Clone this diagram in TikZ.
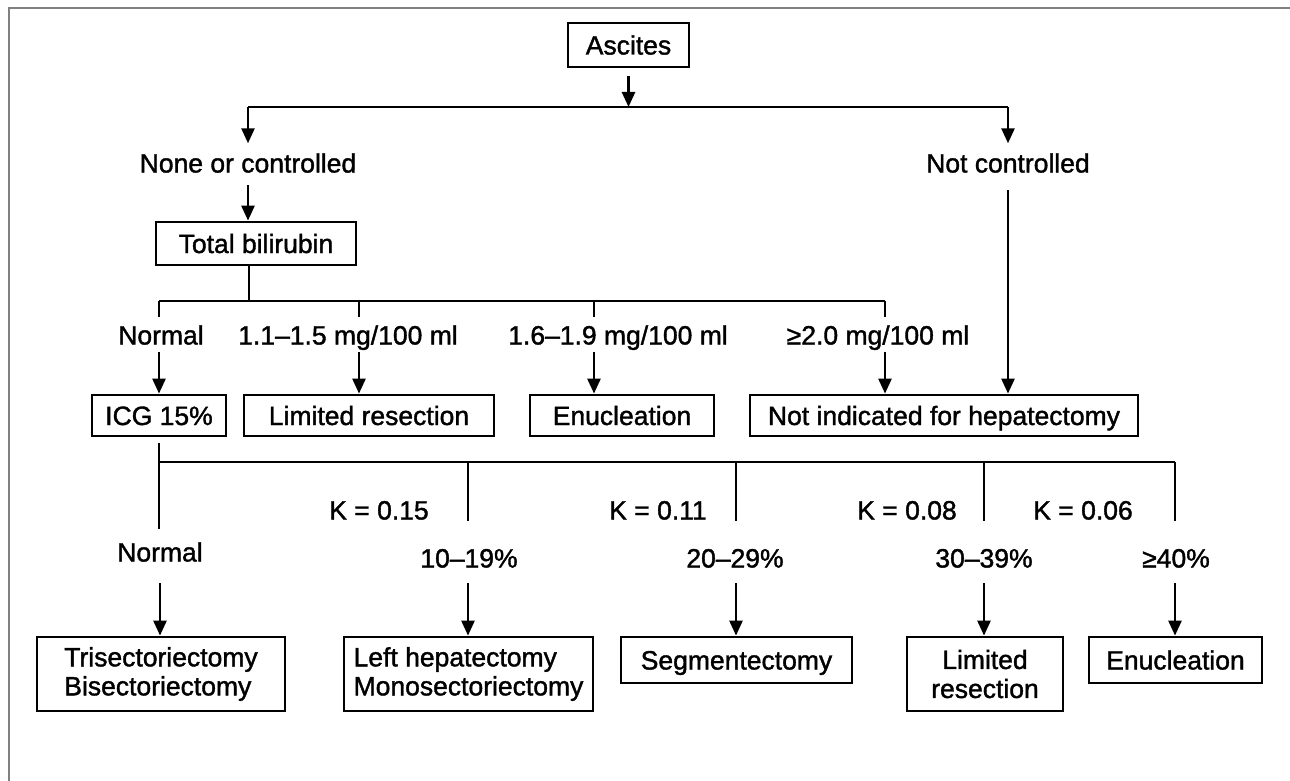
\documentclass[tikz,border=0pt]{standalone}
\usepackage{fontspec}
\setmainfont{Liberation Sans}[FakeBold=1.4]
\usetikzlibrary{arrows.meta}
\begin{document}
\begin{tikzpicture}[x=1pt,y=-1pt,
  font=\fontsize{26.5}{29}\selectfont,
  box/.style={draw,line width=2.8pt,inner sep=0pt,text height=19pt,text depth=0pt},
  boxtwo/.style={draw,line width=2.8pt,inner sep=0pt},
  lbl/.style={inner sep=0pt,text height=19pt,text depth=0pt},
  ln/.style={line width=2.6pt},
  arr/.style={line width=2.6pt,-{Triangle[length=15pt,width=13pt]}}]
\useasboundingbox (0,0) rectangle (1290,781);
\fill[white] (0,0) rectangle (1290,781);
\draw[gray,line width=1.5pt] (1290,8) -- (9,8) -- (9,781);

% top level
\node[box,minimum width=121pt,minimum height=44pt] (asc) at (628.5,45) {Ascites};
\node[lbl] (nc) at (248,163) {None or controlled};
\node[lbl] (nctl) at (1008,163) {Not controlled};
\coordinate (h1l) at (248,107);
\coordinate (h1r) at (1008,107);
\draw[arr] ([yshift=-8pt]asc.south) -- (asc.south |- h1l);
\draw[ln] (h1l) -- (h1r);
\draw[arr] (h1l) -- ([yshift=10pt]nc.north);
\draw[arr] (h1r) -- ([yshift=10pt]nctl.north);

% total bilirubin
\node[box,minimum width=200pt,minimum height=43pt] (tb) at (256,243.5) {Total bilirubin};
\draw[arr] ([yshift=-12.6pt]nc.south) -- (tb.north -| nc.south);

\coordinate (ts) at (249,301);
\coordinate (t1) at (159,301);
\coordinate (t2) at (359,301);
\coordinate (t3) at (594,301);
\coordinate (t4) at (885,301);
\draw[ln] (tb.south -| ts) -- (ts);
\draw[ln] (t1) -- (t4);

\node[lbl] (b1) at (161,335) {Normal};
\node[lbl] (b2) at (348,335) {1.1–1.5 mg/100 ml};
\node[lbl] (b3) at (618,335) {1.6–1.9 mg/100 ml};
\node[lbl] (b4) at (878,335) {≥2.0 mg/100 ml};

\node[box,minimum width=134pt,minimum height=41pt] (icg) at (159,415.5) {ICG 15\%};
\node[box,minimum width=250pt,minimum height=41pt] (lr) at (369,415.5) {Limited resection};
\node[box,minimum width=184pt,minimum height=41pt] (en) at (622,415.5) {Enucleation};
\node[box,minimum width=388pt,minimum height=41pt] (ni) at (944,415.5) {Not indicated for hepatectomy};

\draw[ln] (t1) -- (t1 |- 0,317);
\draw[ln] (t2) -- (t2 |- 0,317);
\draw[ln] (t3) -- (t3 |- 0,317);
\draw[ln] (t4) -- (t4 |- 0,317);
\draw[arr] ([yshift=-7.6pt]b1.south -| t1) -- (icg.north -| t1);
\draw[arr] ([yshift=-7.6pt]b2.south -| t2) -- (lr.north -| t2);
\draw[arr] ([yshift=-7.6pt]b3.south -| t3) -- (en.north -| t3);
\draw[arr] ([yshift=-7.6pt]b4.south -| t4) -- (ni.north -| t4);
\draw[arr] ([yshift=-17.6pt]nctl.south) -- (ni.north -| nctl.south);

% ICG branches
\coordinate (u0) at (159,462);
\coordinate (u1) at (468,462);
\coordinate (u2) at (736,462);
\coordinate (u3) at (984,462);
\coordinate (u4) at (1175,462);

\node[lbl] (k1) at (379,510) {K = 0.15};
\node[lbl] (k2) at (658,510) {K = 0.11};
\node[lbl] (k3) at (907,510) {K = 0.08};
\node[lbl] (k4) at (1083,510) {K = 0.06};

\node[lbl] (p0) at (160,552) {Normal};
\node[lbl] (p1) at (469,558) {10–19\%};
\node[lbl] (p2) at (735,558) {20–29\%};
\node[lbl] (p3) at (984,558) {30–39\%};
\node[lbl] (p4) at (1176,558) {≥40\%};

\draw[ln] ([yshift=-6pt]icg.south) -- (u0 |- 0,529);
\draw[ln] (u0) -- (u4);
\draw[ln] (u1) -- (u1 |- 0,521);
\draw[ln] (u2) -- (u2 |- 0,521);
\draw[ln] (u3) -- (u3 |- 0,521);
\draw[ln] (u4) -- (u4 |- 0,521);

\node[boxtwo,minimum width=248pt,minimum height=74pt,align=left] (tri) at (161,674) {Trisectoriectomy\\Bisectoriectomy};
\node[boxtwo,minimum width=249pt,minimum height=74pt,align=left] (lh) at (468.5,674) {Left hepatectomy\\Monosectoriectomy};
\node[box,minimum width=231pt,minimum height=46pt] (seg) at (736.5,660) {Segmentectomy};
\node[boxtwo,minimum width=156pt,minimum height=74pt,align=center] (lr2) at (985,674) {Limited\\resection};
\node[box,minimum width=173pt,minimum height=46pt] (en2) at (1175.5,660) {Enucleation};

\draw[arr] ([yshift=-21.6pt]p0.south) -- (tri.north -| p0.south);
\draw[arr] ([yshift=-15.6pt]p1.south -| u1) -- (lh.north -| u1);
\draw[arr] ([yshift=-15.6pt]p2.south -| u2) -- (seg.north -| u2);
\draw[arr] ([yshift=-15.6pt]p3.south -| u3) -- (lr2.north -| u3);
\draw[arr] ([yshift=-15.6pt]p4.south -| u4) -- (en2.north -| u4);
\end{tikzpicture}
\end{document}
